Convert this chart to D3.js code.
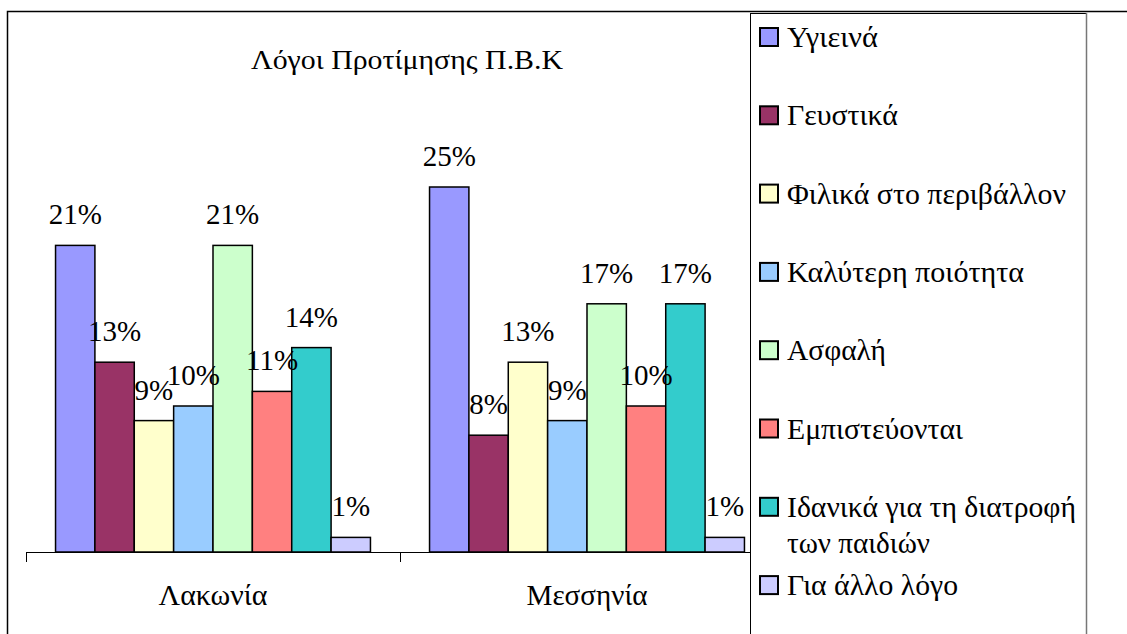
<!DOCTYPE html>
<html>
<head>
<meta charset="utf-8">
<script src="https://cdn.jsdelivr.net/npm/d3@7"></script>
<style>
  svg text { font-family: "Liberation Serif", "Times New Roman", "DejaVu Serif", serif; }
</style>
</head>
<body style="margin:0">
<svg id="chart" width="1127" height="634"></svg>
<script>
// chart data
const regions = ["Λακωνία", "Μεσσηνία"];
const reasons = ["Υγιεινά", "Γευστικά", "Φιλικά στο περιβάλλον", "Καλύτερη ποιότητα",
  "Ασφαλή", "Εμπιστεύονται", "Ιδανικά για τη διατροφή των παιδιών", "Για άλλο λόγο"];
const lakonia = [21, 13, 9, 10, 21, 11, 14, 1];
const messinia = [25, 8, 13, 9, 17, 10, 17, 1];
const colors = ["#9999FF", "#993366", "#FFFFCC", "#99CCFF", "#CCFFCC", "#FF8080", "#33CCCC", "#CCCCFF"];

const values = [lakonia, messinia];

// widths the Greek strings take in the picture (the original font is wider)
const textWidths = {
  "Λόγοι Προτίμησης Π.Β.Κ": 312, "Λακωνία": 109, "Μεσσηνία": 121,
  "Υγιεινά": 91, "Γευστικά": 111, "Φιλικά στο περιβάλλον": 279, "Καλύτερη ποιότητα": 237,
  "Ασφαλή": 99, "Εμπιστεύονται": 176, "Ιδανικά για τη διατροφή": 289, "των παιδιών": 143,
  "Για άλλο λόγο": 171
};

function fit(sel) {
  sel.attr("textLength", function() { return textWidths[this.textContent]; })
    .attr("lengthAdjust", "spacingAndGlyphs");
}

const svg = d3.select("#chart");

// outer frame (only left and top edges visible)
svg.append("path")
  .attr("d", "M7.5,634 V11.5 H1127")
  .attr("fill", "none").attr("stroke", "#000").attr("stroke-width", 1.5);

// scales
const x0 = d3.scaleBand().domain(regions).range([26, 774])
  .paddingInner(0.158).paddingOuter(0.079);
const x1 = d3.scaleBand().domain(d3.range(reasons.length)).range([0, x0.bandwidth()]);
const y = d3.scaleLinear().domain([0, 25]).range([552, 187]);

// title
svg.append("text")
  .attr("x", 407).attr("y", 69)
  .attr("text-anchor", "middle")
  .attr("font-size", 27)
  .text("Λόγοι Προτίμησης Π.Β.Κ")
  .call(fit);

// bars
const groups = svg.append("g").selectAll("g")
  .data(regions)
  .join("g")
  .attr("transform", d => `translate(${x0(d)},0)`);

groups.selectAll("rect")
  .data((d, gi) => values[gi].map((v, i) => ({ v, i })))
  .join("rect")
  .attr("x", d => x1(d.i))
  .attr("y", d => y(d.v))
  .attr("width", x1.bandwidth())
  .attr("height", d => y(0) - y(d.v))
  .attr("fill", d => colors[d.i])
  .attr("stroke", "#000")
  .attr("stroke-width", 1.5);

groups.selectAll("text")
  .data((d, gi) => values[gi].map((v, i) => ({ v, i })))
  .join("text")
  .attr("x", d => x1(d.i) + x1.bandwidth() / 2)
  .attr("y", d => y(d.v) - 21)
  .attr("text-anchor", "middle")
  .attr("font-size", 29)
  .text(d => d.v + "%");

// category axis: baseline with ticks at group boundaries
const edges = regions.map(r => x0(r) - x0.step() * x0.paddingInner() / 2);
edges.push(edges[edges.length - 1] + x0.step());
svg.append("line")
  .attr("x1", edges[0]).attr("x2", edges[edges.length - 1])
  .attr("y1", y(0) + 0.5).attr("y2", y(0) + 0.5)
  .attr("stroke", "#000").attr("stroke-width", 1);
svg.append("g").selectAll("line")
  .data(edges)
  .join("line")
  .attr("x1", d => Math.round(d) + 0.5).attr("x2", d => Math.round(d) + 0.5)
  .attr("y1", y(0)).attr("y2", y(0) + 10)
  .attr("stroke", "#000");

svg.append("g").selectAll("text")
  .data(regions)
  .join("text")
  .attr("x", d => x0(d) + x0.bandwidth() / 2)
  .attr("y", 605)
  .attr("text-anchor", "middle")
  .attr("font-size", 29)
  .text(d => d)
  .call(fit);

// legend box
const legend = svg.append("g");
legend.append("rect")
  .attr("x", 750.5).attr("y", 13.5)
  .attr("width", 336).attr("height", 640)
  .attr("fill", "#fff").attr("stroke", "#000").attr("stroke-width", 1);
legend.append("line")
  .attr("x1", 1086.5).attr("x2", 1086.5).attr("y1", 13).attr("y2", 634)
  .attr("stroke", "#777").attr("stroke-width", 1.5);

const items = legend.selectAll("g.item")
  .data(reasons)
  .join("g")
  .attr("class", "item")
  .attr("transform", (d, i) => `translate(0,${47 + i * 78.3})`);

items.append("rect")
  .attr("x", 760).attr("y", -19)
  .attr("width", 18).attr("height", 18)
  .attr("fill", (d, i) => colors[i])
  .attr("stroke", "#000").attr("stroke-width", 2);

items.each(function(d) {
  const lines = d === reasons[6] ? ["Ιδανικά για τη διατροφή", "των παιδιών"] : [d];
  d3.select(this).selectAll("text")
    .data(lines)
    .join("text")
    .attr("x", 787)
    .attr("y", (l, k) => k * 36)
    .attr("font-size", 29)
    .text(l => l)
    .call(fit);
});
</script>
</body>
</html>
